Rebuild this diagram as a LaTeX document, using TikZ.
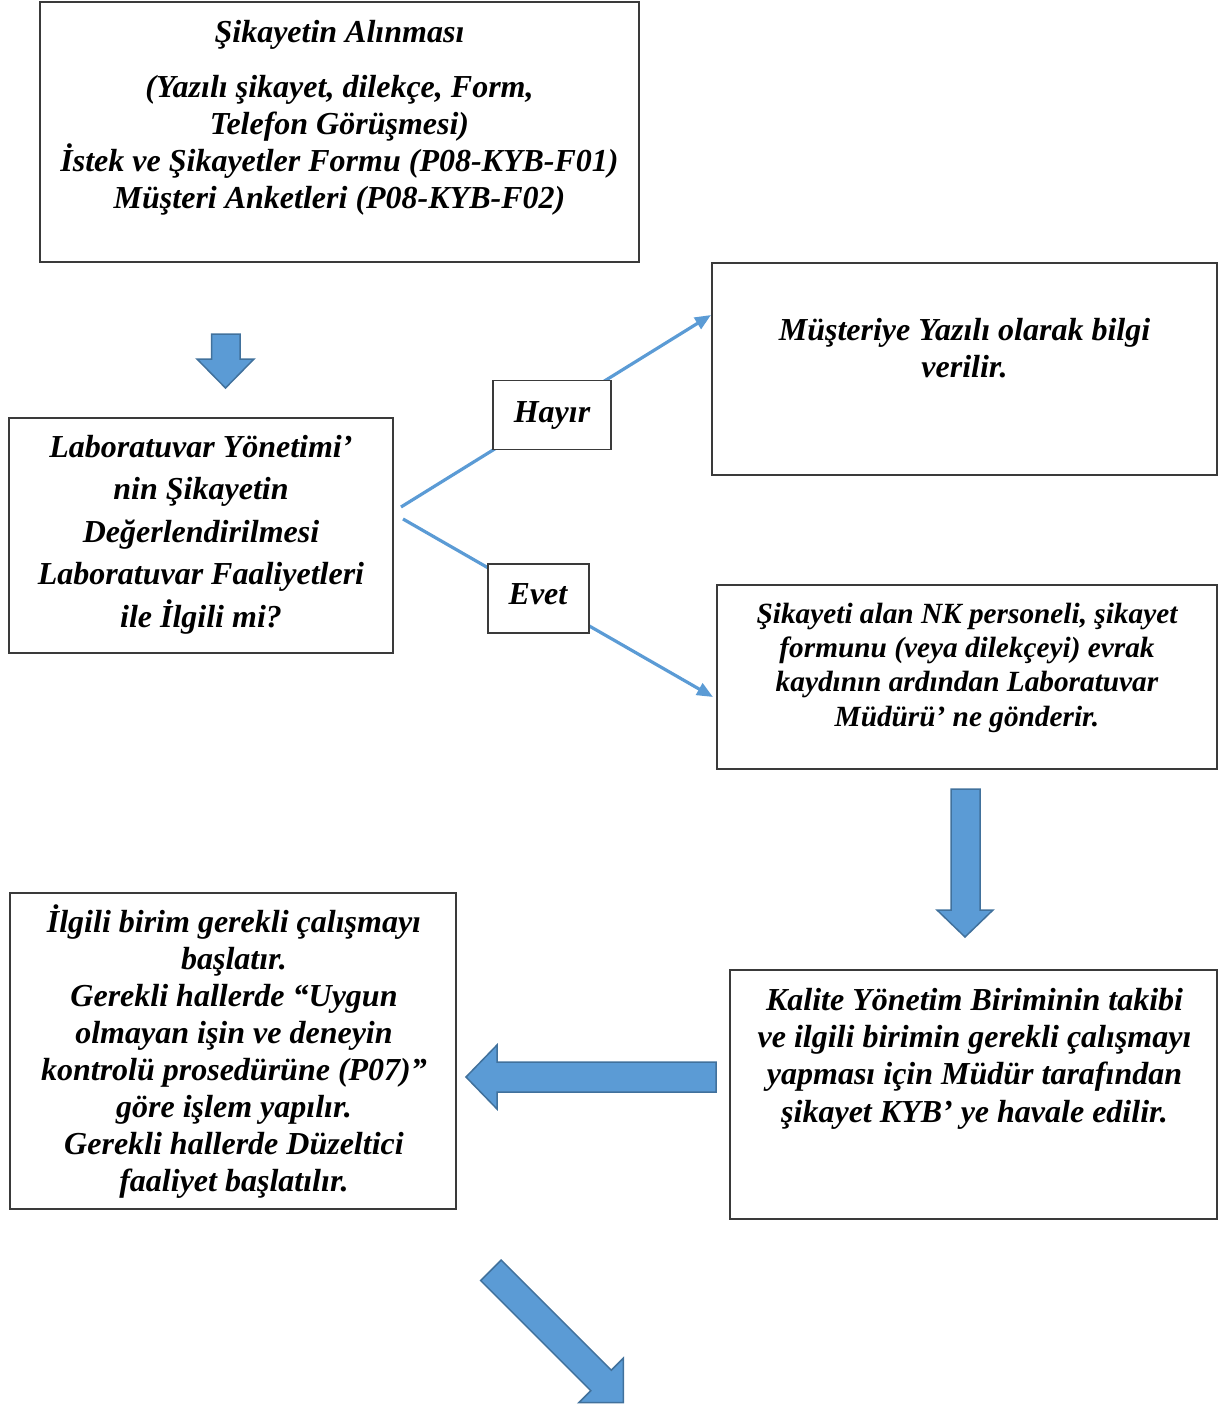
\documentclass[tikz,border=0pt]{standalone}
\usepackage{fontspec}
\setmainfont{Liberation Serif}
\usetikzlibrary{arrows.meta}
\definecolor{ablue}{HTML}{5B9BD5}
\definecolor{aborder}{HTML}{41719C}
\definecolor{boxline}{HTML}{3A3A3A}
\tikzset{
  box/.style={draw=boxline, line width=1.3pt, fill=white, inner sep=0pt, rectangle},
  txt/.style={inner sep=0pt, align=center, anchor=base, font=\bfseries\itshape\fontsize{32}{37}\selectfont},
  conn/.style={draw=ablue, line width=3.2pt, -{Triangle[length=16pt,width=13pt]}},
  blockarrow/.style={fill=ablue, draw=aborder, line width=1.5pt, line join=miter}
}
\begin{document}
\begin{tikzpicture}[x=1pt,y=-1pt]
\useasboundingbox (0,0) rectangle (1219,1408);

% boxes
\node[box, minimum width=599pt, minimum height=260pt] (b1) at (339.5,132) {};
\node[box, minimum width=384pt, minimum height=235pt] (b2) at (201,535.5) {};
\node[box, minimum width=505pt, minimum height=212pt] (b3) at (964.5,369) {};
\node[box, minimum width=500pt, minimum height=184pt] (b4) at (967,677) {};
\node[box, minimum width=487pt, minimum height=249pt] (b5) at (973.5,1094.5) {};
\node[box, minimum width=446pt, minimum height=316pt] (b6) at (233,1051) {};

% texts (anchor base = baseline of the last line)
\node[txt] (t1) at (339.5,208) {Şikayetin Alınması\\[18pt]
(Yazılı şikayet, dilekçe, Form,\\
Telefon Görüşmesi)\\
İstek ve Şikayetler Formu (P08-KYB-F01)\\
Müşteri Anketleri (P08-KYB-F02)};

\node[txt, font=\bfseries\itshape\fontsize{32}{42.5}\selectfont] (t2) at (201,627) {Laboratuvar Yönetimi’\\
nin Şikayetin\\
Değerlendirilmesi\\
Laboratuvar Faaliyetleri\\
ile İlgili mi?};

\node[txt] (t3) at (964.5,377) {Müşteriye Yazılı olarak bilgi\\ verilir.};

\node[txt, font=\bfseries\itshape\fontsize{29.3}{34.3}\selectfont] (t4) at (967,726) {Şikayeti alan NK personeli, şikayet\\
formunu (veya dilekçeyi) evrak\\
kaydının ardından Laboratuvar\\
Müdürü’ ne gönderir.};

\node[txt, font=\bfseries\itshape\fontsize{32}{37.3}\selectfont] (t5) at (974.5,1122) {Kalite Yönetim Biriminin takibi\\
ve ilgili birimin gerekli çalışmayı\\
yapması için Müdür tarafından\\
şikayet KYB’ ye havale edilir.};

\node[txt, font=\bfseries\itshape\fontsize{32}{36.9}\selectfont] (t6) at (234,1191) {İlgili birim gerekli çalışmayı\\
başlatır.\\
Gerekli hallerde “Uygun\\
olmayan işin ve deneyin\\
kontrolü prosedürüne (P07)”\\
göre işlem yapılır.\\
Gerekli hallerde Düzeltici\\
faaliyet başlatılır.};

% connectors
\coordinate (s1) at (401,507);
\coordinate (e1) at (711,315);
\coordinate (s2) at (403,519);
\coordinate (e2) at (713,697);
\draw[conn] (s1) -- (e1);
\draw[conn] (s2) -- (e2);

% label boxes
\node[box, minimum width=118pt, minimum height=69pt] (hayir) at (552,415) {};
\node[txt] (thayir) at (552,422) {Hayır};
\node[box, minimum width=101pt, minimum height=69pt] (evet) at (538.5,598.5) {};
\node[txt] (tevet) at (538,604) {Evet};

% block arrows
\draw[blockarrow] (211.5,334) -- (240,334) -- (240,359) -- (254,359) -- (225.5,388) -- (197,359) -- (211.5,359) -- cycle;
\draw[blockarrow] (951,789) -- (980,789) -- (980,910) -- (993,910) -- (965,937) -- (937,910) -- (951,910) -- cycle;
\draw[blockarrow] (716,1062) -- (716,1092) -- (497,1092) -- (497,1109) -- (466,1077) -- (497,1045) -- (497,1062) -- cycle;
\draw[blockarrow] (501.15,1260.05) -- (611.3,1370.2) -- (623.3,1358.2) -- (623.3,1402.7) -- (578.8,1402.7) -- (590.8,1390.7) -- (480.65,1280.55) -- cycle;
\end{tikzpicture}
\end{document}
